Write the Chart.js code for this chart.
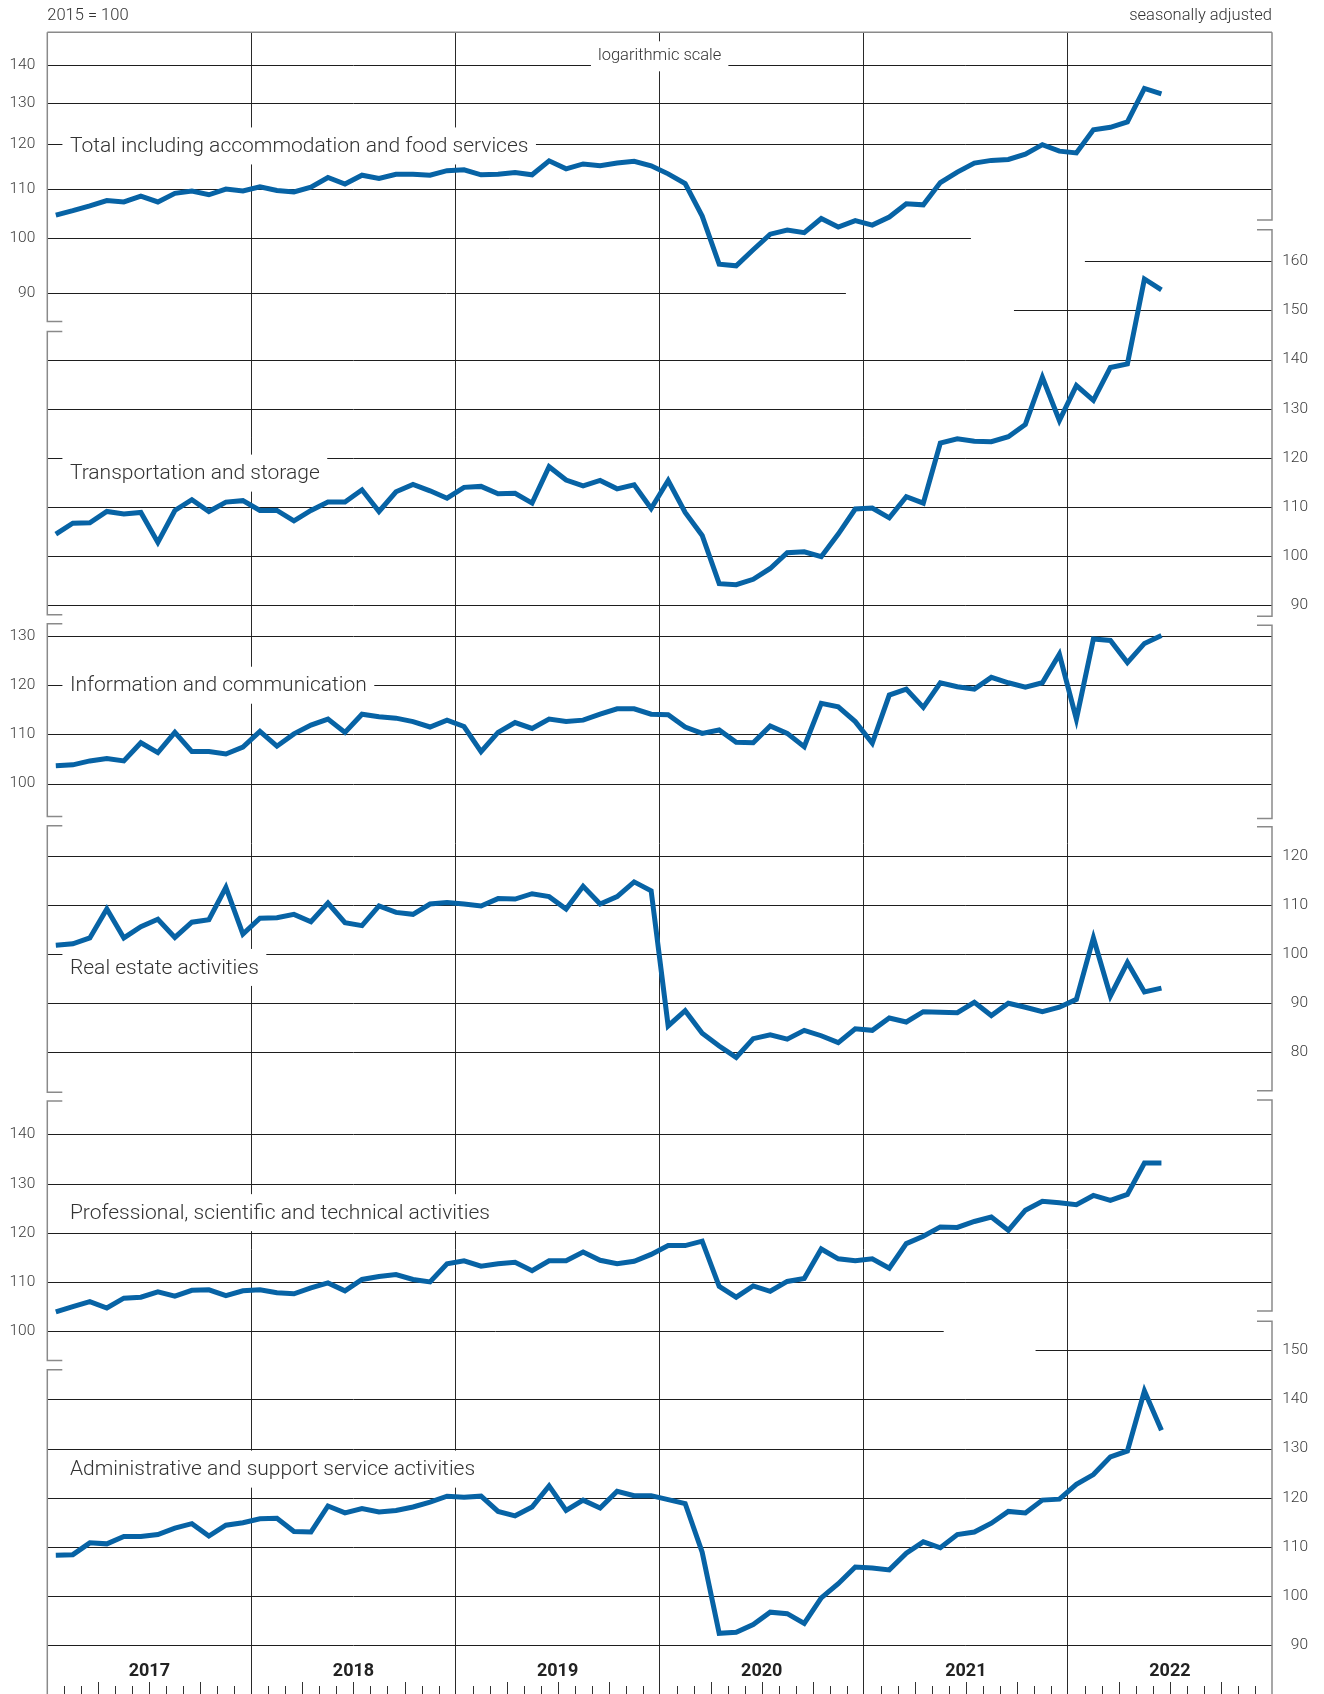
<!DOCTYPE html>
<html>
<head>
<meta charset="utf-8">
<script src="https://cdn.jsdelivr.net/npm/chart.js@4.4.1/dist/chart.umd.min.js"></script>
<style>
html,body{margin:0;padding:0;background:#fff;}
#wrap{width:1324px;height:1694px;position:relative;}
</style>
</head>
<body>
<div id="wrap"><canvas id="c"></canvas></div>
<script>
// ---------------- DATA ----------------
const years = ['2017','2018','2019','2020','2021','2022'];

const total = [104.6,105.5,106.5,107.6,107.3,108.5,107.3,109.1,109.6,108.8,110.0,109.6,
  110.5,109.7,109.4,110.4,112.5,111.1,113.0,112.3,113.2,113.2,113.0,114.0,
  114.2,113.1,113.2,113.6,113.1,116.2,114.4,115.5,115.1,115.7,116.1,115.1,
  113.3,111.2,104.4,95.1,94.8,97.8,100.8,101.6,101.1,103.9,102.2,103.5,
  102.6,104.2,106.9,106.7,111.4,113.7,115.7,116.3,116.5,117.7,119.9,118.4,
  118.0,123.4,124.0,125.3,133.7,132.3];

const transport = [104.5,106.7,106.8,109.1,108.6,108.9,102.8,109.3,111.5,109.1,111.0,111.3,
  109.3,109.3,107.2,109.3,111.0,111.0,113.5,109.1,113.1,114.6,113.3,111.8,
  114.0,114.2,112.7,112.8,110.8,118.2,115.5,114.3,115.4,113.7,114.5,109.7,
  115.4,108.9,104.2,94.4,94.2,95.3,97.5,100.7,100.9,99.9,104.5,109.6,
  109.8,107.8,112.1,110.8,123.0,123.9,123.4,123.3,124.3,126.8,136.4,127.6,
  134.7,131.7,138.4,139.1,156.4,154.2];

const information = [103.6,103.8,104.6,105.1,104.6,108.3,106.3,110.4,106.5,106.5,106.0,107.4,
  110.6,107.6,110.1,111.9,113.1,110.4,114.1,113.6,113.3,112.6,111.5,112.9,
  111.6,106.5,110.4,112.4,111.2,113.1,112.6,112.9,114.1,115.2,115.2,114.1,
  114.0,111.5,110.2,110.9,108.4,108.3,111.7,110.2,107.5,116.3,115.6,112.6,
  108.2,118.0,119.2,115.5,120.5,119.7,119.2,121.6,120.5,119.6,120.5,126.3,
  113.1,129.4,129.1,124.6,128.5,130.1];

const realEstate = [101.8,102.1,103.3,109.2,103.3,105.6,107.1,103.4,106.5,107.0,113.6,104.1,
  107.3,107.4,108.1,106.6,110.4,106.4,105.8,109.8,108.5,108.1,110.2,110.5,
  110.2,109.8,111.3,111.2,112.3,111.7,109.2,113.8,110.2,111.7,114.7,112.9,
  85.4,88.5,83.9,81.3,79.0,82.8,83.6,82.7,84.5,83.4,82.0,84.8,
  84.5,87.0,86.2,88.3,88.2,88.1,90.2,87.5,90.0,89.2,88.3,89.2,
  90.8,103.3,91.5,98.3,92.3,93.1];

const professional = [103.9,105.0,106.0,104.7,106.7,106.9,108.0,107.1,108.3,108.4,107.2,108.2,
  108.4,107.8,107.6,108.8,109.8,108.2,110.5,111.1,111.5,110.5,110.0,113.7,
  114.3,113.2,113.7,114.0,112.3,114.3,114.3,116.1,114.4,113.7,114.2,115.6,
  117.4,117.4,118.3,109.1,106.9,109.2,108.1,110.1,110.7,116.7,114.7,114.3,
  114.7,112.8,117.8,119.3,121.2,121.1,122.3,123.2,120.5,124.6,126.4,126.1,
  125.7,127.6,126.6,127.8,134.2,134.2];

const administrative = [108.3,108.4,110.8,110.6,112.1,112.1,112.5,113.8,114.7,112.2,114.4,114.9,
  115.7,115.8,113.1,113.0,118.3,116.9,117.8,117.1,117.4,118.1,119.1,120.3,
  120.1,120.3,117.2,116.3,118.1,122.4,117.4,119.5,117.9,121.3,120.4,120.4,
  119.6,118.8,108.9,92.4,92.6,94.2,96.7,96.4,94.4,99.6,102.5,105.9,
  105.7,105.3,108.7,111.0,109.8,112.5,113.0,114.8,117.2,116.9,119.5,119.7,
  122.7,124.7,128.3,129.5,141.7,133.7];

const ticksTotal = [90,100,110,120,130,140];
const ticksTransport = [90,100,110,120,130,140,150,160];
const ticksInformation = [100,110,120,130];
const ticksRealEstate = [80,90,100,110,120];
const ticksProfessional = [100,110,120,130,140];
const ticksAdministrative = [90,100,110,120,130,140,150];

const seriesNames = [
  'Total including accommodation and food services',
  'Transportation and storage',
  'Information and communication',
  'Real estate activities',
  'Professional, scientific and technical activities',
  'Administrative and support service activities'
];

// ---------------- LAYOUT ----------------
const PLOT_TOP = 32.3, PLOT_BOTTOM = 1655, PAD_LEFT = 47.3, PAD_RIGHT = 52;
const LIN_PX = 4.915;   // px per index point on linear panels
const LOG_PX = 516;     // px per ln unit on the logarithmic panel
const X_MAX = years.length * 12;

const panels = [
  {id:'y1', data:total, ticks:ticksTotal, pos:'left', type:'logarithmic', refV:100, refY:238.3,
   label:{v:119.6}, extents:{100:[0,54.3], 90:[0,46.95]},
   frameL:['top',85.1], frameR:['top',103.6]},
  {id:'y2', data:transport, ticks:ticksTransport, pos:'right', type:'linear', refV:125, refY:433.3,
   label:{v:116.9}, extents:{160:[61.0,X_MAX], 150:[56.83,X_MAX]},
   frameL:[145.7,88.1], frameR:[166.4,87.8]},
  {id:'y3', data:information, ticks:ticksInformation, pos:'left', type:'linear', refV:115, refY:709.8,
   label:{v:120}, extents:{},
   frameL:[132.5,93.3], frameR:[132.2,92.9]},
  {id:'y4', data:realEstate, ticks:ticksRealEstate, pos:'right', type:'linear', refV:100, refY:954.15,
   label:{v:97.3}, extents:{},
   frameL:[126.1,71.9], frameR:[125.9,72.2]},
  {id:'y5', data:professional, ticks:ticksProfessional, pos:'left', type:'linear', refV:120, refY:1232.8,
   label:{v:124.1}, extents:{100:[0,52.7]},
   frameL:[146.8,94.0], frameR:[147.0,104.1]},
  {id:'y6', data:administrative, ticks:ticksAdministrative, pos:'right', type:'linear', refV:120, refY:1497.65,
   label:{v:125.8}, extents:{150:[58.1,X_MAX]},
   frameL:[146.0,'bottom'], frameR:[155.9,'bottom']}
];

function limits(p){
  if (p.type === 'logarithmic') {
    return {min: p.refV*Math.exp(-(PLOT_BOTTOM-p.refY)/LOG_PX), max: p.refV*Math.exp((p.refY-PLOT_TOP)/LOG_PX)};
  }
  return {min: p.refV-(PLOT_BOTTOM-p.refY)/LIN_PX, max: p.refV+(p.refY-PLOT_TOP)/LIN_PX};
}

const FONT = 'Roboto';
const TICK_FONT = {family:FONT, size:15.5, weight:'300'};
const measureCtx = document.createElement('canvas').getContext('2d');
measureCtx.font = TICK_FONT.weight + ' ' + TICK_FONT.size + 'px ' + FONT;

const scales = {};
const xTickValues = [];
for (let m = 0; m <= X_MAX; m += 6) xTickValues.push(m);

scales.x = {
  type:'linear', min:0, max:X_MAX, position:'bottom',
  afterBuildTicks: s => { s.ticks = xTickValues.map(v => ({value:v})); },
  ticks:{autoSkip:false, maxRotation:0, minRotation:0, padding:-33, color:'#222',
    font:{family:FONT, size:18, weight:'bold'},
    callback: v => (v % 12 === 6 ? years[(v-6)/12] : '')},
  grid:{drawOnChartArea:true, drawTicks:true, tickLength:39, lineWidth:1,
    color: c => (c.tick && c.tick.value % 12 === 0 && c.tick.value > 0 && c.tick.value < X_MAX) ? '#2a2a2a' : 'rgba(0,0,0,0)'},
  border:{display:false},
  afterFit: s => { s.height = 1694 - PLOT_BOTTOM; s.paddingLeft = 0; s.paddingRight = 0; }
};

panels.forEach(p => {
  const lim = limits(p);
  const widest = Math.max(...p.ticks.map(v => measureCtx.measureText(String(v)).width));
  const left = p.pos === 'left';
  scales[p.id] = {
    type:p.type, position:p.pos, min:lim.min, max:lim.max,
    afterBuildTicks: s => { s.ticks = p.ticks.map(v => ({value:v})); },
    ticks:{autoSkip:false, mirror:true, crossAlign: left ? 'far' : 'near',
      padding: left ? -(12 + widest) : 36,
      color:'#3a3a3a', font:TICK_FONT, callback: v => String(v)},
    grid:{display:false, drawTicks:false},
    border:{display:false},
    afterFit: s => { s.width = 0; s.paddingTop = 0; s.paddingBottom = 0; }
  };
});

// ---------------- DECORATION PLUGIN ----------------
const decor = {
  id:'decor',
  beforeDatasetsDraw(chart){
    const {ctx, chartArea:ca, scales:sc} = chart;
    const xs = sc.x;
    const H = chart.height;
    ctx.save();

    // horizontal gridlines per panel
    ctx.strokeStyle = '#1e1e1e';
    ctx.lineWidth = 1;
    panels.forEach(p => {
      const ys = sc[p.id];
      p.ticks.forEach(v => {
        const ext = p.extents[v] || [0, X_MAX];
        const y = Math.round(ys.getPixelForValue(v)) + 0.5;
        ctx.beginPath();
        ctx.moveTo(xs.getPixelForValue(ext[0]), y);
        ctx.lineTo(xs.getPixelForValue(ext[1]), y);
        ctx.stroke();
      });
    });

    // frame with break marks
    ctx.strokeStyle = '#8a8a8a';
    ctx.lineWidth = 1.5;
    ctx.beginPath();
    ctx.moveTo(ca.left, ca.top); ctx.lineTo(ca.right, ca.top);
    ctx.stroke();
    const pix = (ys, v) => v === 'top' ? ca.top : (v === 'bottom' ? H : ys.getPixelForValue(v));
    panels.forEach(p => {
      const ys = sc[p.id];
      [[p.frameL, ca.left, 1], [p.frameR, ca.right, -1]].forEach(([seg, x, dir]) => {
        const y1 = pix(ys, seg[0]), y2 = pix(ys, seg[1]);
        ctx.beginPath();
        if (seg[0] !== 'top') { ctx.moveTo(x + dir*15, y1); ctx.lineTo(x, y1); } else { ctx.moveTo(x, y1); }
        ctx.lineTo(x, y2);
        if (seg[1] !== 'bottom') ctx.lineTo(x + dir*15, y2);
        ctx.stroke();
      });
    });

    // month ticks at the bottom
    ctx.strokeStyle = '#333';
    ctx.lineWidth = 1;
    for (let m = 1; m < X_MAX; m++) {
      if (m % 12 === 0) continue;
      const len = (m % 3 === 0) ? 12 : 8;
      const x = Math.round(xs.getPixelForValue(m)) + 0.5;
      ctx.beginPath(); ctx.moveTo(x, H - len); ctx.lineTo(x, H); ctx.stroke();
    }

    // series labels with white boxes
    ctx.font = '300 21px ' + FONT;
    ctx.textBaseline = 'middle';
    ctx.textAlign = 'left';
    panels.forEach((p, i) => {
      const ys = sc[p.id];
      const y = ys.getPixelForValue(p.label.v);
      const x = xs.getPixelForValue(1.33);
      const w = ctx.measureText(seriesNames[i]).width;
      ctx.fillStyle = '#fff';
      ctx.fillRect(x - 7.5, y - 18.5, w + 15, 37);
      ctx.fillStyle = '#333';
      ctx.fillText(seriesNames[i], x, y + 1);
    });

    // "logarithmic scale" note
    ctx.font = '300 16.5px ' + FONT;
    ctx.textAlign = 'center';
    const lx = xs.getPixelForValue(36), ly = ca.top + 24;
    const lw = ctx.measureText('logarithmic scale').width;
    ctx.fillStyle = '#fff';
    ctx.fillRect(lx - lw/2 - 7, ly - 15, lw + 14, 30);
    ctx.fillStyle = '#333';
    ctx.fillText('logarithmic scale', lx, ly);

    // header notes
    ctx.font = '300 16.5px ' + FONT;
    ctx.fillStyle = '#333';
    ctx.textAlign = 'left';
    ctx.fillText('2015 = 100', ca.left, 16);
    ctx.textAlign = 'right';
    ctx.fillText('seasonally adjusted', ca.right, 16);

    ctx.restore();
  }
};

// ---------------- CHART ----------------
new Chart(document.getElementById('c'), {
  type:'line',
  data:{
    datasets: panels.map((p, i) => ({
      label: seriesNames[i],
      data: p.data.map((v, k) => ({x: k + 0.5, y: v})),
      yAxisID: p.id, xAxisID:'x',
      borderColor:'#0763a5', borderWidth:5,
      pointRadius:0, pointHoverRadius:0, tension:0,
      borderJoinStyle:'miter', borderCapStyle:'butt', fill:false, clip:false
    }))
  },
  options:{
    responsive:true, maintainAspectRatio:false, animation:false,
    layout:{padding:{top:PLOT_TOP, left:PAD_LEFT, right:PAD_RIGHT, bottom:0}, autoPadding:false},
    plugins:{legend:{display:false}, tooltip:{enabled:false}, title:{display:false}},
    events:[],
    scales: scales
  },
  plugins:[decor]
});
</script>
</body>
</html>
